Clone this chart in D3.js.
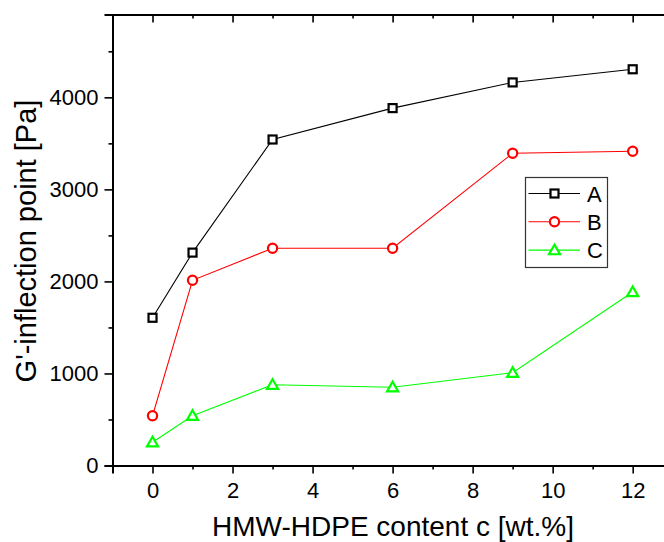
<!DOCTYPE html>
<html><head><meta charset="utf-8">
<script src="https://cdn.jsdelivr.net/npm/d3@7"></script>
<style>html,body{margin:0;padding:0;background:#fff;overflow:hidden}svg{display:block}</style>
</head><body>
<svg id="c" width="664" height="542"></svg>
<script>
const contents = [0, 1, 3, 6, 9, 12];
const seriesA = [1605, 2313, 3542, 3883, 4162, 4305];
const seriesB = [540, 2012, 2360, 2360, 3392, 3414];
const seriesC = [252, 540, 878, 850, 1008, 1885];
const seriesNames = ["A", "B", "C"];
const seriesColors = ["#000000", "#ff0000", "#00ff00"];
const xMajorTicks = [0, 2, 4, 6, 8, 10, 12];
const xMinorTicks = [-1, 1, 3, 5, 7, 9, 11, 13];
const yMajorTicks = [0, 1000, 2000, 3000, 4000];
const yMinorTicks = [500, 1500, 2500, 3500, 4500];
const xTitle = "HMW-HDPE content c [wt.%]";
const yTitle = "G'-inflection point [Pa]";

const svg = d3.select("#c");
const font = "'Liberation Sans', Arial, sans-serif";
const L = 112.5, R = 672.7, T = 14.5, B = 465.5;
const x = d3.scaleLinear().domain([-1, 13]).range([L, R]);
const y = d3.scaleLinear().domain([0, 4900]).range([B, T]);

// bottom axis
svg.append("g").attr("transform", `translate(0,${B})`)
  .call(d3.axisBottom(x).tickValues(xMajorTicks).tickSize(8).tickPadding(9).tickFormat(d3.format("d")));
svg.append("g").attr("transform", `translate(0,${B})`)
  .call(d3.axisBottom(x).tickValues(xMinorTicks).tickSize(4).tickFormat(""))
  .select(".domain").remove();
// top axis (ticks inward)
svg.append("g").attr("transform", `translate(0,${T})`)
  .call(d3.axisBottom(x).tickValues(xMajorTicks).tickSize(8).tickFormat(""));
svg.append("g").attr("transform", `translate(0,${T})`)
  .call(d3.axisBottom(x).tickValues(xMinorTicks).tickSize(4).tickFormat(""))
  .select(".domain").remove();
// left axis
svg.append("g").attr("transform", `translate(${L},0)`)
  .call(d3.axisLeft(y).tickValues(yMajorTicks).tickSize(8).tickPadding(6).tickFormat(d3.format("d")));
svg.append("g").attr("transform", `translate(${L},0)`)
  .call(d3.axisLeft(y).tickValues(yMinorTicks).tickSize(4).tickFormat(""))
  .select(".domain").remove();

svg.selectAll(".domain").attr("stroke", "#000").attr("stroke-width", 2);
svg.selectAll(".tick line").attr("stroke", "#000").attr("stroke-width", 1.6);
svg.selectAll(".tick text").attr("font-family", font).attr("font-size", 22).attr("fill", "#000");

// titles
svg.append("text").attr("x", 393).attr("y", 536)
  .attr("text-anchor", "middle").attr("font-family", font).attr("font-size", 28).text(xTitle);
svg.append("text").attr("transform", `translate(36,241) rotate(-90)`)
  .attr("text-anchor", "middle").attr("font-family", font).attr("font-size", 29).text(yTitle);

const allSeries = [seriesA, seriesB, seriesC];
const line = d3.line().x((d, i) => x(contents[i])).y(d => y(d));

function marker(g, kind, cx, cy, color) {
  if (kind === 0) {
    g.append("rect").attr("x", cx - 4).attr("y", cy - 4).attr("width", 8).attr("height", 8)
      .attr("fill", "#fff").attr("stroke", color).attr("stroke-width", 2.2);
  } else if (kind === 1) {
    g.append("circle").attr("cx", cx).attr("cy", cy).attr("r", 4.6)
      .attr("fill", "#fff").attr("stroke", color).attr("stroke-width", 2.2);
  } else {
    const s = 5.5;
    g.append("path").attr("d", `M${cx},${cy - s}L${cx + s},${cy + s * 0.75}L${cx - s},${cy + s * 0.75}Z`)
      .attr("fill", "#fff").attr("stroke", color).attr("stroke-width", 2.2);
  }
}

allSeries.forEach((vals, k) => {
  const g = svg.append("g");
  g.append("path").datum(vals).attr("d", line).attr("fill", "none")
    .attr("stroke", seriesColors[k]).attr("stroke-width", 1.1);
  vals.forEach((v, i) => marker(g, k, x(contents[i]), y(v), seriesColors[k]));
});

// legend
const lg = svg.append("g");
lg.append("rect").attr("x", 525.5).attr("y", 177.5).attr("width", 82).attr("height", 90)
  .attr("fill", "#fff").attr("stroke", "#333").attr("stroke-width", 1.2);
seriesNames.forEach((n, k) => {
  const yy = 193.5 + k * 28.3;
  lg.append("line").attr("x1", 528.5).attr("x2", 580).attr("y1", yy).attr("y2", yy)
    .attr("stroke", seriesColors[k]).attr("stroke-width", 1.1);
  marker(lg, k, 554.5, yy, seriesColors[k]);
  lg.append("text").attr("x", 587).attr("y", yy + 8).attr("font-family", font)
    .attr("font-size", 22).text(n);
});
</script>
</body></html>
